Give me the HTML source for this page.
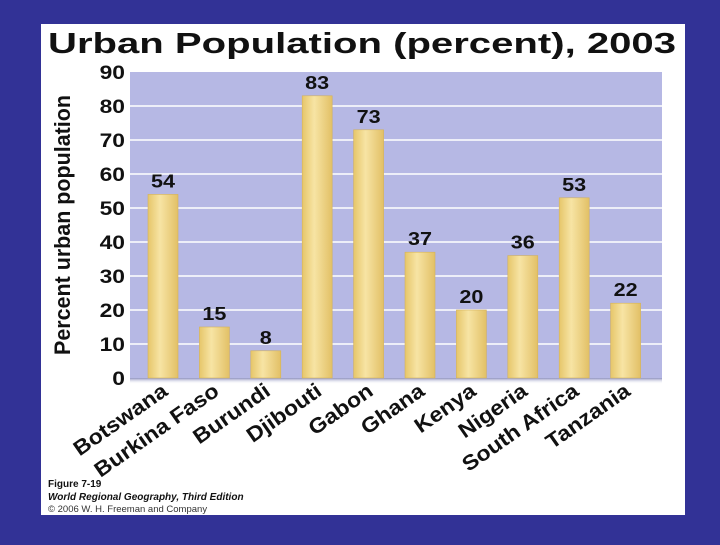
<!DOCTYPE html>
<html><head><meta charset="utf-8"><style>
body{margin:0;width:720px;height:540px;background:#323296;overflow:hidden;font-family:"Liberation Sans",sans-serif}
</style></head><body>
<svg width="720" height="540">
<rect x="0" y="0" width="720" height="540" fill="#323296"/>
<rect x="41" y="24" width="644" height="491" fill="#fff"/>
<text x="48" y="53" font-size="29" font-weight="bold" fill="#111" textLength="628" lengthAdjust="spacingAndGlyphs">Urban Population (percent), 2003</text>
<defs>
<linearGradient id="bg" x1="0" x2="1"><stop offset="0" stop-color="#e6c66a"/><stop offset="0.4" stop-color="#f7e4a4"/><stop offset="1" stop-color="#e2c066"/></linearGradient>
<linearGradient id="sh" x1="0" y1="0" x2="0" y2="1"><stop offset="0" stop-color="#8f92bf"/><stop offset="1" stop-color="#fff" stop-opacity="0"/></linearGradient>
</defs>
<rect x="130" y="72" width="532" height="306" fill="#b6b8e4"/>
<rect x="130" y="378" width="532" height="6" fill="url(#sh)"/>
<g id="grid"></g><g id="bars"></g><g id="labels"></g>
<text transform="translate(70,225) rotate(-90)" text-anchor="middle" font-size="22" font-weight="bold" fill="#111" textLength="260" lengthAdjust="spacingAndGlyphs">Percent urban population</text>
<text x="48" y="487" font-size="10" font-weight="bold" fill="#111">Figure 7-19</text>
<text x="48" y="500" font-size="10" font-weight="bold" font-style="italic" fill="#111">World Regional Geography, Third Edition</text>
<text x="48" y="512" font-size="9.5" fill="#333">© 2006 W. H. Freeman and Company</text>
</svg>
<script>
const categories=["Botswana","Burkina Faso","Burundi","Djibouti","Gabon","Ghana","Kenya","Nigeria","South Africa","Tanzania"];
const values=[54,15,8,83,73,37,20,36,53,22];
const ticks=[0,10,20,30,40,50,60,70,80,90];
const NS="http://www.w3.org/2000/svg";
const y0=378,yTop=72,ymax=90;
function yS(v){return y0-(v/ymax)*(y0-yTop);}
function xC(i){return 163+i*51.4;}
function mk(t,a,p){const e=document.createElementNS(NS,t);for(const k in a)e.setAttribute(k,a[k]);p.appendChild(e);return e;}
const grid=document.getElementById('grid'),bars=document.getElementById('bars'),labels=document.getElementById('labels');
ticks.forEach(t=>{
  if(t>0&&t<90){const l=mk('line',{x1:130,x2:662,y1:yS(t),y2:yS(t),stroke:'#fff','stroke-width':1.5},grid);
  
  }
  const tx=mk('text',{x:125,y:yS(t)+7,'text-anchor':'end','font-size':19,'font-weight':'bold',fill:'#111','lengthAdjust':'spacingAndGlyphs'},labels);
  tx.textContent=t;
  
  
  tx.setAttribute('textLength',tx.getComputedTextLength()*1.2);
});
categories.forEach((c,i)=>{
  const v=values[i],x=xC(i);
  const r=mk('rect',{x:x-15,y:yS(v),width:30,height:y0-yS(v),fill:'url(#bg)',stroke:'#d4b25a','stroke-width':0.6},bars);
  
  
  const vl=mk('text',{x:x,y:yS(v)-7,'text-anchor':'middle','font-size':18,'font-weight':'bold',fill:'#111','lengthAdjust':'spacingAndGlyphs'},labels);
  vl.textContent=v;
  
  
  vl.setAttribute('textLength',vl.getComputedTextLength()*1.2);
  const cl=mk('text',{transform:'translate('+(x+6)+',394) rotate(-35)','text-anchor':'end','font-size':21,'font-weight':'bold',fill:'#111','lengthAdjust':'spacingAndGlyphs'},labels);
  cl.textContent=c;
  
  
  cl.setAttribute('textLength',cl.getComputedTextLength()*1.1);
});
</script>
</body></html>
